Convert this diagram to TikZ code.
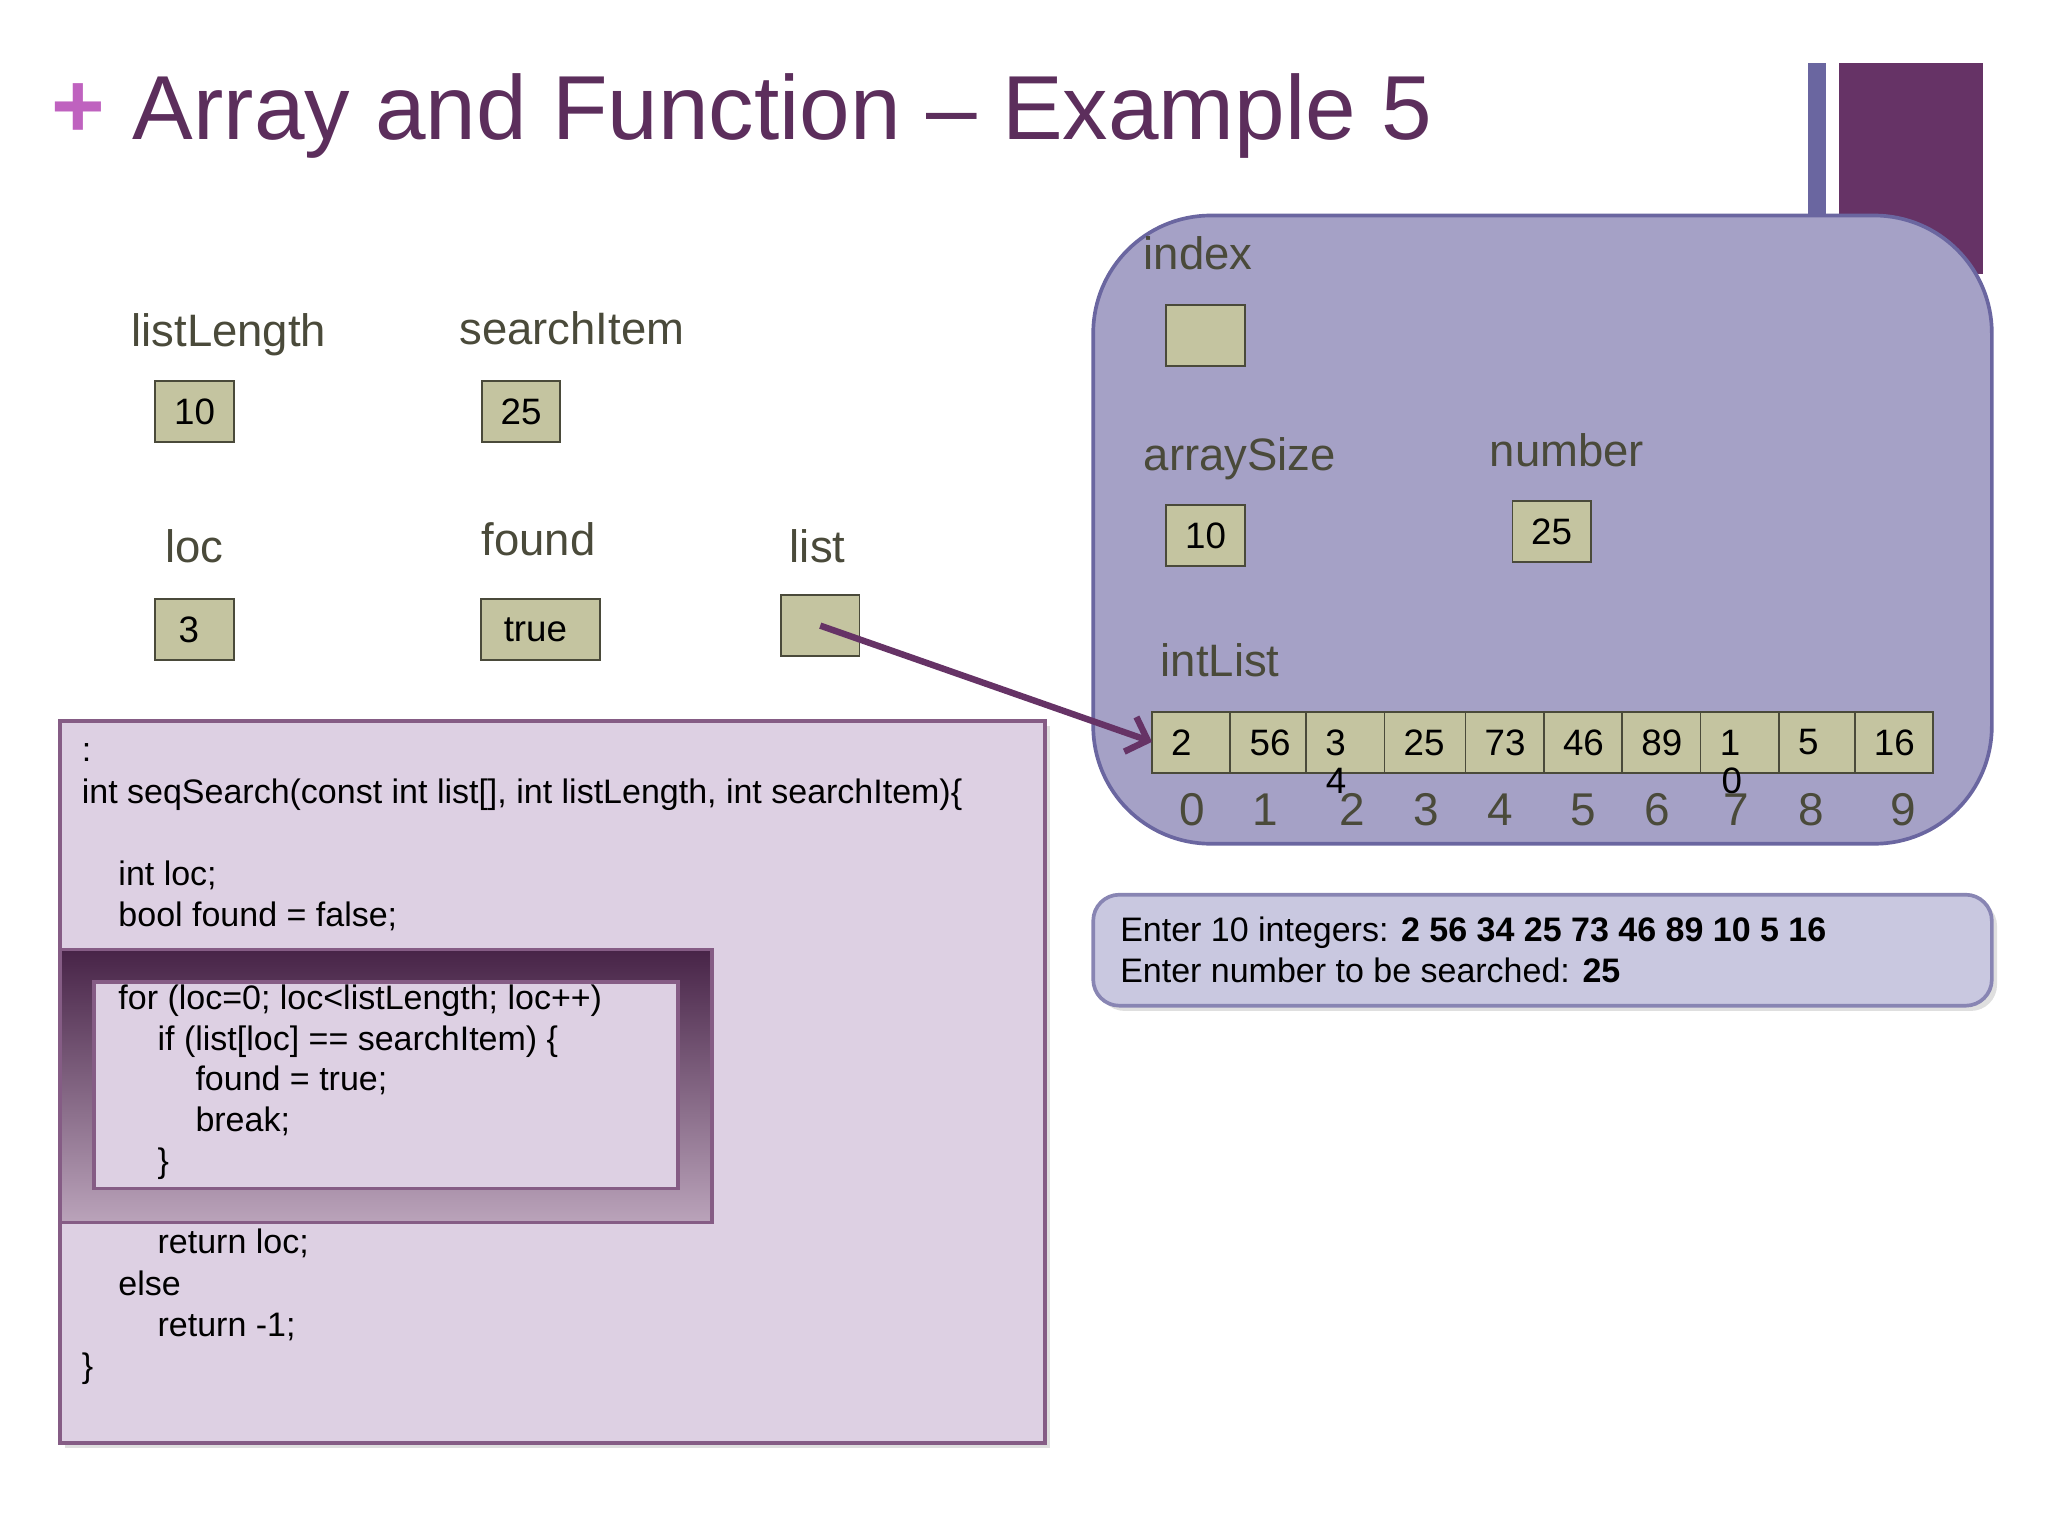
\documentclass[tikz,border=0pt]{standalone}
\usepackage{fontspec}
\setmainfont{Liberation Sans}
\usetikzlibrary{positioning,shadows,arrows.meta}
\definecolor{plum}{HTML}{663366}
\definecolor{boxolive}{HTML}{C4C4A0}
\definecolor{labgrey}{HTML}{4A4A3A}
\definecolor{frameblue}{HTML}{A5A1C6}
\definecolor{codepink}{HTML}{DDD0E3}
\definecolor{outblue}{HTML}{C9C8E0}
\definecolor{barblue}{HTML}{6A66A0}
\tikzset{
    val/.style={draw=labgrey, fill=boxolive, minimum height=0.47cm, font=\fontsize{8}{9}\selectfont, inner sep=0pt},
    varname/.style={text=labgrey, font=\fontsize{9.9}{12}\selectfont, anchor=base west, inner sep=0pt},
    code/.style={anchor=base west, inner sep=0pt, font=\fontsize{7.4}{9}\selectfont},
    softshadow/.style={drop shadow={opacity=0.25, shadow xshift=0.04cm, shadow yshift=-0.04cm}}
}
\begin{document}
\begin{tikzpicture}[x=0.01cm, y=-0.01cm]
        \useasboundingbox (0,0) rectangle (1568,1176);
        % title and bars
        \node[anchor=base west, inner sep=0pt, text=plum!90!black, font=\fontsize{19.8}{24}\selectfont] (title) at (101,107) {Array and Function -- Example 5};
        \node[anchor=base west, inner sep=0pt, text=plum!60!magenta!70, font=\fontsize{20}{24}\selectfont\bfseries] (plus) at (39,105) {+};
        \fill[fill=barblue] (1384,48) rectangle (1398,170);
        \fill[fill=plum] (1408,48) rectangle (1518,210);
        % function frame
        \draw[draw=barblue, fill=frameblue, line width=0.8pt, rounded corners=0.9cm] (837,165) rectangle (1525,646);
        \node[varname] (lindex) at (875,206) {index};
        \node[val, minimum width=0.6cm] (index) at (923,257) {};
        \node[varname] (lsize) at (875,360) {arraySize};
        \node[val, minimum width=0.6cm] (size) at (923,410) {10};
        \node[varname] (lnumber) at (1140,357) {number};
        \node[val, minimum width=0.6cm] (number) at (1188,407) {25};
        \node[varname] (lintlist) at (888,518) {intList};
        \foreach \l/\r/\v [count=\i from 0] in {882/942/2, 942/1000/56, 1000/1060/3, 1060/1122/25, 1122/1182/73, 1182/1242/46, 1242/1302/89, 1302/1362/1, 1362/1420/5, 1420/1480/16}{
            \draw[draw=labgrey, fill=boxolive] (\l,545) rectangle (\r,592);
            \node[anchor=west, inner sep=0pt, font=\fontsize{8}{9}\selectfont] (c\i) at (\l+14,568.5) {\v};
        }
        \coordinate (arr) at (882,568);
        \node[inner sep=0pt, font=\fontsize{8}{9}\selectfont] (x4) at (1023,598) {4};
        \node[inner sep=0pt, font=\fontsize{8}{9}\selectfont] (x0) at (1326,598) {0};
        \foreach \x/\n in {913/0, 969/1, 1035/2, 1092/3, 1149/4, 1212/5, 1269/6, 1329/7, 1387/8, 1457/9}{
            \node[inner sep=0pt, text=labgrey, font=\fontsize{10}{12}\selectfont] (i\n) at (\x,620) {\n};
        }
        % output window
        \draw[draw=barblue!80, fill=outblue, line width=0.8pt, rounded corners=0.2cm, softshadow] (837,685) rectangle (1525,770);
        \node[code] (out1) at (857,721) {Enter 10 integers: \textbf{2 56 34 25 73 46 89 10 5 16}};
        \node[code] (out2) at (857,752) {Enter number to be searched: \textbf{25}};
        % main variables
        \node[varname] (llength) at (100,265) {listLength};
        \node[val, minimum width=0.6cm] (length) at (149,315) {10};
        \node[varname] (litem) at (351,264) {searchItem};
        \node[val, minimum width=0.6cm] (item) at (399,315) {25};
        \node[varname] (lloc) at (126,431) {loc};
        \node[val, minimum width=0.6cm] (loc) at (149,482) {};
        \node[anchor=west, inner sep=0pt, font=\fontsize{8}{9}\selectfont] (locv) at (136,482) {3};
        \node[varname] (lfound) at (368,425) {found};
        \node[val, minimum width=0.91cm] (found) at (414,482) {};
        \node[anchor=west, inner sep=0pt, font=\fontsize{8}{9}\selectfont] (foundv) at (385,482) {true};
        \node[varname] (llist) at (604,431) {list};
        \node[val, minimum width=0.6cm] (list) at (628,479) {};
        \draw[plum, line width=1.4pt, -{Straight Barb[length=4pt]}] (list.center) -- (arr);
        % code box
        \draw[draw=plum!80, fill=codepink, line width=0.8pt, softshadow] (46,552) rectangle (800,1105);
        \shade[top color=plum!70!black, bottom color=plum!45!white] (46,727) rectangle (545,936);
        \draw[draw=plum!80, line width=0.8pt] (46,727) rectangle (545,936);
        \draw[draw=plum!80, fill=codepink, line width=0.8pt] (72,752) rectangle (519,910);
        \node[code] (l0) at (62,583) {:};
        \node[code] (l1) at (62,615) {int seqSearch(const int list[], int listLength, int searchItem)\{};
        \node[code] (l2) at (90,678) {int loc;};
        \node[code] (l3) at (90,709) {bool found = false;};
        \node[code] (l4) at (90,773) {for (loc=0; loc<listLength; loc++)};
        \node[code] (l5) at (120,804) {if (list[loc] == searchItem) \{};
        \node[code] (l6) at (149,835) {found = true;};
        \node[code] (l7) at (149,866) {break;};
        \node[code] (l8) at (120,898) {\}};
        \node[code] (l9) at (120,960) {return loc;};
        \node[code] (l10) at (90,992) {else};
        \node[code] (l11) at (120,1023) {return -1;};
        \node[code] (l12) at (62,1055) {\}};
\end{tikzpicture}
\end{document}
